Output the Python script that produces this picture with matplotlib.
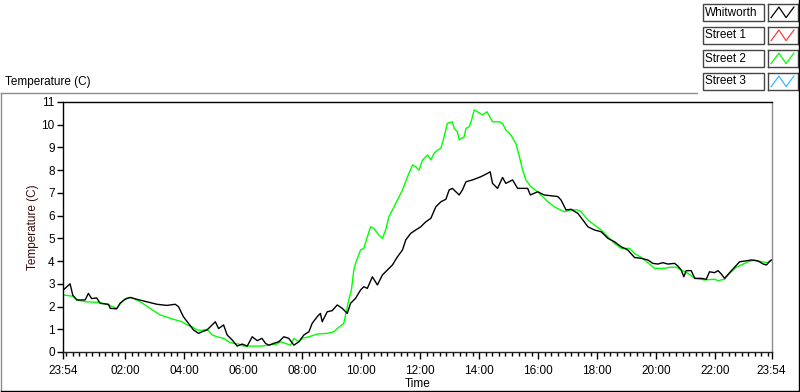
from __future__ import annotations

import matplotlib

matplotlib.use("Agg")
import matplotlib.pyplot as plt
import numpy as np
from matplotlib.lines import Line2D
from matplotlib.patches import Rectangle

# hours since 23:54 of the previous day
whitworth_hours = [
    0.01, 0.24, 0.33, 0.47, 0.75, 0.86, 0.97, 1.14, 1.26, 1.54, 1.60, 1.82, 1.93, 2.10, 2.27,
    2.50, 2.84, 3.18, 3.52, 3.80, 3.91, 4.08, 4.25, 4.42, 4.59, 4.71, 4.88, 5.16, 5.27, 5.44,
    5.56, 5.73, 5.90, 6.07, 6.24, 6.41, 6.58, 6.74, 6.86, 6.97, 7.14, 7.31, 7.48, 7.65, 7.82,
    7.99, 8.16, 8.33, 8.44, 8.61, 8.72, 8.78, 8.95, 9.12, 9.29, 9.46, 9.63, 9.74, 9.91, 10.08,
    10.19, 10.31, 10.48, 10.65, 10.82, 10.99, 11.16, 11.33, 11.50, 11.61, 11.78, 11.95, 12.12,
    12.29, 12.46, 12.63, 12.80, 12.97, 13.08, 13.19, 13.31, 13.42, 13.53, 13.65, 13.87, 14.15,
    14.38, 14.47, 14.55, 14.72, 14.89, 15.00, 15.23, 15.40, 15.74, 15.83, 16.08, 16.30, 16.76,
    16.87, 17.04, 17.21, 17.44, 17.61, 17.78, 18.00, 18.23, 18.46, 18.68, 18.91, 19.13, 19.36,
    19.59, 19.81, 19.98, 20.15, 20.32, 20.49, 20.72, 20.83, 20.94, 21.03, 21.11, 21.28, 21.40,
    21.62, 21.79, 21.90, 22.07, 22.19, 22.30, 22.41, 22.58, 22.75, 22.92, 23.09, 23.32, 23.55,
    23.72, 23.83, 23.94, 24.00,
]
whitworth_temp = [
    2.73, 3.00, 2.50, 2.29, 2.29, 2.58, 2.35, 2.38, 2.14, 2.10, 1.92, 1.90, 2.14, 2.32, 2.40,
    2.32, 2.21, 2.10, 2.05, 2.10, 2.00, 1.55, 1.26, 0.97, 0.82, 0.89, 0.97, 1.33, 1.03, 1.19,
    0.75, 0.53, 0.26, 0.35, 0.26, 0.67, 0.50, 0.60, 0.38, 0.30, 0.38, 0.45, 0.67, 0.60, 0.30,
    0.45, 0.75, 0.89, 1.26, 1.55, 1.70, 1.33, 1.77, 1.82, 2.07, 1.92, 1.70, 2.14, 2.36, 2.73,
    2.87, 2.80, 3.31, 2.95, 3.39, 3.61, 3.83, 4.19, 4.49, 4.93, 5.22, 5.37, 5.51,
    5.73, 5.88, 6.39, 6.61, 6.72, 7.13, 7.20, 7.05, 6.91, 7.13, 7.49, 7.57, 7.71,
    7.86, 7.93, 7.42, 7.20, 7.68, 7.42, 7.57, 7.20, 7.20, 6.91, 7.05, 6.91, 6.84,
    6.69, 6.25, 6.28, 6.10, 5.81, 5.51, 5.37, 5.29, 5.00, 4.85, 4.63, 4.49, 4.16,
    4.12, 4.05, 3.90, 3.87, 3.93, 3.87, 3.90, 3.78, 3.61, 3.31, 3.58, 3.58, 3.24,
    3.24, 3.20, 3.53, 3.49, 3.58, 3.43, 3.24, 3.49, 3.73, 3.97, 4.00, 4.05, 4.00,
    3.87, 3.83, 4.00, 4.05,
]

street1_hours = []
street1_temp = []

street2_hours = [
    0.01, 0.34, 0.47, 0.75, 1.26, 1.54, 1.82, 1.99, 2.16, 2.33, 2.61, 2.95, 3.29, 3.74, 4.03,
    4.20, 4.37, 4.54, 4.71, 4.88, 5.05, 5.22, 5.44, 5.61, 5.78, 5.95, 6.12, 6.35, 6.74, 6.91,
    7.25, 7.37, 7.59, 7.71, 7.82, 7.99, 8.10, 8.33, 8.61, 8.95, 9.18, 9.29, 9.51, 9.61, 9.68,
    9.77, 9.85, 9.91, 10.08, 10.19, 10.31, 10.42, 10.53, 10.70, 10.82, 10.93, 11.04, 11.16,
    11.33, 11.50, 11.67, 11.84, 11.95, 12.06, 12.18, 12.35, 12.46, 12.57, 12.69, 12.80, 12.91,
    13.02, 13.19, 13.25, 13.36, 13.42, 13.59, 13.65, 13.76, 13.84, 13.93, 14.04, 14.21, 14.36,
    14.55, 14.78, 14.89, 15.00, 15.17, 15.34, 15.46, 15.57, 15.68, 15.85, 16.08, 16.36, 16.64,
    16.98, 17.21, 17.44, 17.55, 17.78, 18.00, 18.23, 18.46, 18.68, 18.91, 19.19, 19.36, 19.59,
    19.81, 20.04, 20.38, 20.55, 20.77, 20.94, 21.17, 21.40, 21.74, 22.07, 22.19, 22.41, 22.58,
    22.81, 22.98, 23.21, 23.43, 23.66, 23.89, 24.00,
]
street2_temp = [
    2.51, 2.45, 2.29, 2.21, 2.18, 2.07, 1.92, 2.21, 2.38, 2.40, 2.21, 1.92, 1.63, 1.44, 1.33,
    1.19, 1.11, 0.97, 0.95, 1.00, 0.75, 0.67, 0.60, 0.45, 0.38, 0.35, 0.26, 0.26, 0.26, 0.30,
    0.35, 0.45, 0.35, 0.30, 0.60, 0.45, 0.60, 0.67, 0.79, 0.82, 0.89, 1.03, 1.26, 1.85, 2.29,
    2.73, 3.60, 3.90, 4.49, 4.56, 5.07, 5.51, 5.44, 5.15, 5.00, 5.37, 5.95, 6.25,
    6.69, 7.13, 7.71, 8.23, 8.15, 8.00, 8.45, 8.67, 8.45, 8.74, 8.89, 8.96, 9.47,
    10.06, 10.13, 9.84, 9.69, 9.33, 9.47, 9.84, 9.91, 10.20, 10.65, 10.57, 10.43, 10.57,
    10.13, 10.13, 10.06, 9.77, 9.55, 9.18, 8.59, 8.01, 7.57, 7.27, 7.05, 6.69, 6.39,
    6.17, 6.25, 6.25, 6.17, 5.81, 5.59, 5.37, 5.07, 4.78, 4.56, 4.56, 4.34, 4.16,
    3.93, 3.68, 3.68, 3.73, 3.73, 3.61, 3.46, 3.24, 3.17, 3.20, 3.14, 3.20, 3.46,
    3.73, 3.83, 3.97, 4.05, 3.97, 3.93, 4.02,
]

street3_hours = []
street3_temp = []

series_names = ["Whitworth", "Street 1", "Street 2", "Street 3"]
series_colors = ["#000000", "#ff3c3c", "#00ff00", "#33bbff"]

tick_hours = [0.0, 2.1, 4.1, 6.1, 8.1, 10.1, 12.1, 14.1, 16.1, 18.1, 20.1, 22.1, 24.0]
tick_labels = ["23:54", "02:00", "04:00", "06:00", "08:00", "10:00", "12:00",
               "14:00", "16:00", "18:00", "20:00", "22:00", "23:54"]

FONT = "Liberation Sans"
W, H = 800, 392


def fx(px: float) -> float:
    return px / W


def fy(py: float) -> float:
    return 1 - py / H


def draw_frame(fig: plt.Figure) -> None:
    grey = "#8c8c8c"
    fig.add_artist(Line2D([fx(0.5), fx(697)], [fy(92.5), fy(92.5)], color=grey, lw=1.0))
    fig.add_artist(Line2D([fx(0.5), fx(0.5)], [fy(92.5), fy(390.5)], color=grey, lw=1.0))
    fig.add_artist(Line2D([fx(0.5), fx(799)], [fy(390.5), fy(390.5)], color="#000000", lw=1.0))
    fig.add_artist(Line2D([fx(798.5), fx(798.5)], [fy(0), fy(390.5)], color="#000000", lw=1.0))


def draw_legend(fig: plt.Figure) -> None:
    tops = [4, 27, 50, 73]
    for name, color, top in zip(series_names, series_colors, tops):
        fig.add_artist(Rectangle((fx(702.5), fy(top + 17)), fx(61), 17 / H,
                                 fill=False, edgecolor="#444444", lw=1.0))
        fig.text(fx(705), fy(top + 8.5), name, fontsize=8.5, family=FONT,
                 va="center", ha="left", color="#000000")
        sw = fig.add_axes([fx(767.5), fy(top + 17), fx(30), 17 / H])
        sw.set_xlim(0, 1)
        sw.set_ylim(0, 1)
        sw.set_xticks([])
        sw.set_yticks([])
        for s in sw.spines.values():
            s.set_color("#444444")
            s.set_linewidth(1.0)
        sw.plot([0.12, 0.38, 0.62, 0.88], [0.2, 0.82, 0.2, 0.82], color=color, lw=0.9)


def main() -> None:
    fig = plt.figure(figsize=(8.0, 3.92), dpi=100)
    fig.patch.set_facecolor("white")

    ax = fig.add_axes([fx(63), fy(352), fx(771.5 - 63), (352 - 102) / H])
    data = [
        (whitworth_hours, whitworth_temp),
        (street1_hours, street1_temp),
        (street2_hours, street2_temp),
        (street3_hours, street3_temp),
    ]
    # Whitworth drawn last so it sits over Street 2
    for idx in [2, 1, 3, 0]:
        hrs, temp = data[idx]
        ax.plot(hrs, temp, color=series_colors[idx], lw=1.0)

    ax.set_xlim(0, 24)
    ax.set_ylim(0, 11)
    ax.set_yticks(range(0, 12))
    ax.set_yticklabels([str(v) for v in range(0, 12)], family=FONT, fontsize=8.5)
    ax.set_xticks(tick_hours)
    ax.set_xticklabels(tick_labels, family=FONT, fontsize=8.5)
    ax.set_xticks(np.arange(0.1, 24, 2 / 9), minor=True)
    ax.tick_params(axis="y", direction="out", length=4, width=1, pad=2, colors="#000000")
    ax.tick_params(axis="x", which="major", direction="out", length=5, width=1, pad=4)
    ax.tick_params(axis="x", which="minor", direction="out", length=3, width=1)

    ax.spines["left"].set_color("#000000")
    ax.spines["top"].set_color("#000000")
    ax.spines["right"].set_color("#8c8c8c")
    ax.spines["bottom"].set_color("#222222")
    for s in ax.spines.values():
        s.set_linewidth(1.0)

    ax.set_xlabel("Time", family=FONT, fontsize=8.5, va="center")
    ax.xaxis.set_label_coords(0.5, -32 / 250)
    ax.set_ylabel("Temperature (C)", family=FONT, fontsize=8.5, color="#3a0d0d", va="center")
    ax.yaxis.set_label_coords(-30 / 708.5, 0.5)

    fig.text(fx(5), fy(82), "Temperature (C)", family=FONT, fontsize=8.5, va="center", ha="left")

    draw_frame(fig)
    draw_legend(fig)

    fig.savefig("out.png", dpi=100)
    plt.close(fig)


if __name__ == "__main__":
    main()
